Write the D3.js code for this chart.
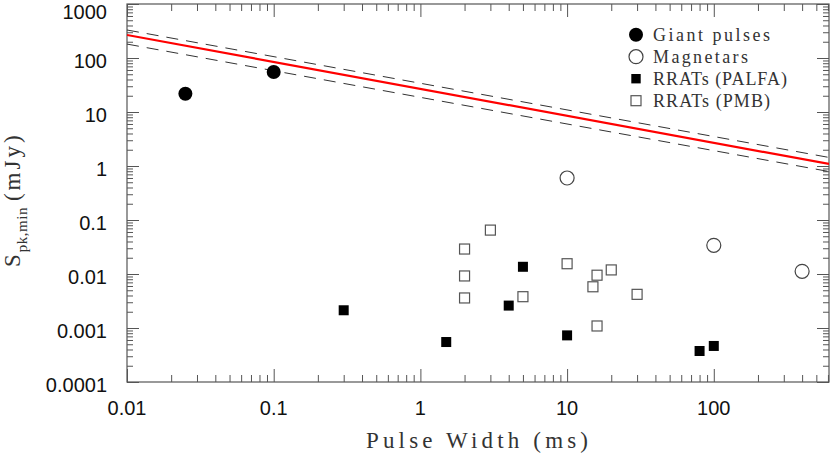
<!DOCTYPE html>
<html><head><meta charset="utf-8">
<script src="https://cdn.jsdelivr.net/npm/d3@7"></script>
<style>body{margin:0;background:#fff}svg{display:block}</style>
</head><body>
<svg id="c" width="830" height="454"></svg>
<script>
// ---- data ----
const giantW = [0.025, 0.1];
const giantS = [21.8, 55];
const magW = [10, 100, 400];
const magS = [0.6, 0.034, 0.0112];
const palfaW = [0.3, 1.5, 4, 5, 10, 80, 100];
const palfaS = [0.00213, 0.00055, 0.0026, 0.0136, 0.00073, 0.000375, 0.000465];
const pmbW = [2, 2, 2, 3, 5, 10, 15, 16, 16, 20, 30];
const pmbS = [0.029, 0.0092, 0.0036, 0.065, 0.0038, 0.0155, 0.0058, 0.0095, 0.00109, 0.0119, 0.0042];
const lineW = [0.01, 610];
const redS = [267, 1.09];
const upperS = [330, 1.44];
const lowerS = [181, 0.79];
const xTicks = [0.01, 0.1, 1, 10, 100];
const xTickLabels = ["0.01", "0.1", "1", "10", "100"];
const yTicks = [1e-4, 1e-3, 1e-2, 0.1, 1, 10, 100, 1000];
const yTickLabels = ["0.0001", "0.001", "0.01", "0.1", "1", "10", "100", "1000"];
const legendLabels = ["Giant pulses", "Magnetars", "RRATs (PALFA)", "RRATs (PMB)"];

// ---- layout ----
const L = 127, R = 829, T = 4, B = 382;
const svg = d3.select("#c");
const x = d3.scaleLog().domain([0.01, 610]).range([L, R]);
const y = d3.scaleLog().domain([1e-4, 1e3]).range([B, T]);
const axisCol = "#555";

function minors(dom) {
  const out = [];
  const lo = Math.floor(Math.log10(dom[0])), hi = Math.ceil(Math.log10(dom[1]));
  for (let e = lo; e < hi; e++) for (let m = 2; m <= 9; m++) {
    const v = m * Math.pow(10, e);
    if (v > dom[0] && v < dom[1]) out.push(v);
  }
  return out;
}
const xMin = minors(x.domain()), yMin = minors(y.domain());

function styleAxis(g) {
  g.select(".domain").remove();
  g.selectAll("line").attr("stroke", axisCol).attr("stroke-width", 1);
  g.selectAll("text").remove();
}
svg.append("g").attr("transform", `translate(0,${B})`).call(d3.axisBottom(x).tickValues(xTicks).tickSize(-13)).call(styleAxis);
svg.append("g").attr("transform", `translate(0,${B})`).call(d3.axisBottom(x).tickValues(xMin).tickSize(-7)).call(styleAxis);
svg.append("g").attr("transform", `translate(0,${T})`).call(d3.axisTop(x).tickValues(xTicks).tickSize(-13)).call(styleAxis);
svg.append("g").attr("transform", `translate(0,${T})`).call(d3.axisTop(x).tickValues(xMin).tickSize(-7)).call(styleAxis);
svg.append("g").attr("transform", `translate(${L},0)`).call(d3.axisLeft(y).tickValues(yTicks).tickSize(-12)).call(styleAxis);
svg.append("g").attr("transform", `translate(${L},0)`).call(d3.axisLeft(y).tickValues(yMin).tickSize(-6)).call(styleAxis);
svg.append("g").attr("transform", `translate(${R},0)`).call(d3.axisRight(y).tickValues(yTicks).tickSize(-12)).call(styleAxis);
svg.append("g").attr("transform", `translate(${R},0)`).call(d3.axisRight(y).tickValues(yMin).tickSize(-6)).call(styleAxis);
svg.append("rect").attr("x", L).attr("y", T).attr("width", R - L).attr("height", B - T)
  .attr("fill", "none").attr("stroke", axisCol).attr("stroke-width", 1.2);

// tick labels
svg.append("g").selectAll("text").data(xTicks).join("text")
  .attr("x", d => x(d)).attr("y", 415).attr("text-anchor", "middle")
  .attr("font-family", "Liberation Sans, Arial, sans-serif").attr("font-size", 20).attr("fill", "#111")
  .text((d, i) => xTickLabels[i]);
svg.append("g").selectAll("text").data(yTicks).join("text")
  .attr("x", 107).attr("y", d => Math.max(y(d) + 10, 19)).attr("text-anchor", "end")
  .attr("font-family", "Liberation Sans, Arial, sans-serif").attr("font-size", 20).attr("fill", "#111")
  .text((d, i) => yTickLabels[i]);

// axis titles
svg.append("text").attr("x", 366).attr("y", 448)
  .attr("font-family", "Liberation Serif, serif").attr("font-size", 23).attr("fill", "#333")
  .attr("textLength", 222).attr("lengthAdjust", "spacing")
  .text("Pulse Width (ms)");
const yt = svg.append("text").attr("transform", "translate(20,267) rotate(-90)")
  .attr("font-family", "Liberation Serif, serif").attr("fill", "#333");
yt.append("tspan").attr("font-size", 23).attr("letter-spacing", 2).text("S");
yt.append("tspan").attr("font-size", 15).attr("dy", 7).attr("letter-spacing", 0.5).text("pk,min");
yt.append("tspan").attr("font-size", 23).attr("dy", -7).attr("dx", 6).attr("letter-spacing", 3).text("(mJy)");

// lines
const ln = d3.line().x(d => x(d[0])).y(d => y(d[1]));
svg.append("clipPath").attr("id", "pc").append("rect")
  .attr("x", L).attr("y", T).attr("width", R - L).attr("height", B - T);
const lg = svg.append("g").attr("clip-path", "url(#pc)");
lg.append("path").attr("d", ln(lineW.map((w, i) => [w, upperS[i]])))
  .attr("fill", "none").attr("stroke", "#333").attr("stroke-width", 1).attr("stroke-dasharray", "12,8");
lg.append("path").attr("d", ln(lineW.map((w, i) => [w, lowerS[i]])))
  .attr("fill", "none").attr("stroke", "#333").attr("stroke-width", 1).attr("stroke-dasharray", "12,8");
lg.append("path").attr("d", ln(lineW.map((w, i) => [w, redS[i]])))
  .attr("fill", "none").attr("stroke", "#ff0000").attr("stroke-width", 2.2);

// markers
const mk = svg.append("g");
mk.selectAll(".gp").data(giantW.map((w, i) => [w, giantS[i]])).join("circle")
  .attr("cx", d => x(d[0])).attr("cy", d => y(d[1])).attr("r", 7).attr("fill", "#000");
mk.selectAll(".mg").data(magW.map((w, i) => [w, magS[i]])).join("circle")
  .attr("cx", d => x(d[0])).attr("cy", d => y(d[1])).attr("r", 7)
  .attr("fill", "#fff").attr("stroke", "#444").attr("stroke-width", 1.2);
const sq = 10;
mk.selectAll(".pa").data(palfaW.map((w, i) => [w, palfaS[i]])).join("rect")
  .attr("x", d => x(d[0]) - sq / 2).attr("y", d => y(d[1]) - sq / 2).attr("width", sq).attr("height", sq)
  .attr("fill", "#000");
mk.selectAll(".pm").data(pmbW.map((w, i) => [w, pmbS[i]])).join("rect")
  .attr("x", d => x(d[0]) - sq / 2).attr("y", d => y(d[1]) - sq / 2).attr("width", sq).attr("height", sq)
  .attr("fill", "#fff").attr("stroke", "#555").attr("stroke-width", 1.2);

// legend
const legY = [34.7, 56.7, 78.7, 100.7];
const legW = [117, 95, 134, 117];
const lgd = svg.append("g");
lgd.append("circle").attr("cx", 636).attr("cy", legY[0]).attr("r", 7).attr("fill", "#000");
lgd.append("circle").attr("cx", 636).attr("cy", legY[1]).attr("r", 7).attr("fill", "#fff").attr("stroke", "#444").attr("stroke-width", 1.2);
lgd.append("rect").attr("x", 636 - 4.7).attr("y", legY[2] - 4.7).attr("width", 9.4).attr("height", 9.4).attr("fill", "#000");
lgd.append("rect").attr("x", 636 - 5).attr("y", legY[3] - 5).attr("width", 10).attr("height", 10).attr("fill", "#fff").attr("stroke", "#555").attr("stroke-width", 1.2);
lgd.selectAll("text").data(legendLabels).join("text")
  .attr("x", 653).attr("y", (d, i) => legY[i] + 6.5)
  .attr("font-family", "Liberation Serif, serif").attr("font-size", 18).attr("fill", "#333")
  .attr("textLength", (d, i) => legW[i]).attr("lengthAdjust", "spacing")
  .text(d => d);
</script>
</body></html>
